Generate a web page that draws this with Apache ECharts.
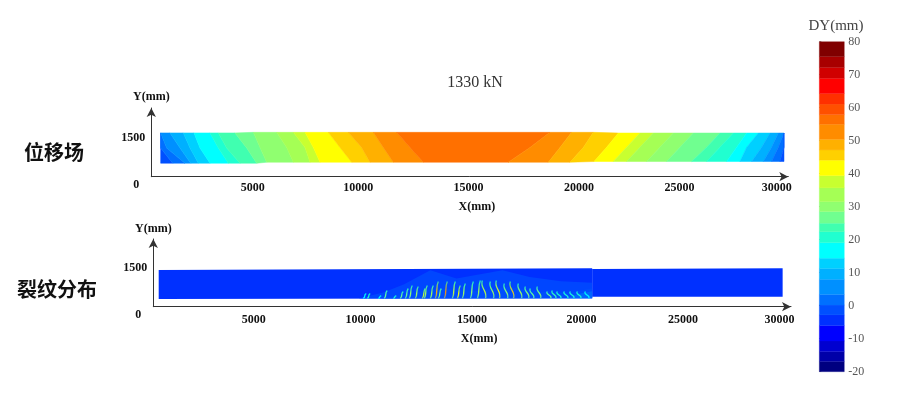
<!DOCTYPE html>
<html>
<head>
<meta charset="utf-8">
<title>1330 kN</title>
<script src="https://cdn.jsdelivr.net/npm/echarts@6/dist/echarts.min.js"></script>
<style>
html,body{margin:0;padding:0;background:#fff;}
#chart{width:903px;height:393px;}
</style>
</head>
<body>
<div id="chart"></div>
<script>
// 色标分档 (DY, mm)
var barEdges = [-20,-16.9,-13.9,-10.7,-6,-2.8,0.2,3.4,8,11.3,14.4,19.1,22.4,25,28.5,31.5,35.7,39.4,44.1,47.2,50.4,55,57.9,61.1,64.3,68.9,72.2,75.5,80];
var barColors = ['#000080','#0000a8','#0000d0','#0000ff','#0030ff','#0050ff','#0070ff','#0090ff','#00b0ff','#00d0ff','#00ffff','#20ffd0','#40ffb0','#70ff90','#90ff70','#a5ff55','#c8ff30','#ffff00','#ffd000','#ffb000','#ff8c00','#ff7000','#ff5000','#ff3000','#ff0000','#d00000','#a80000','#800000'];

var xTicks = [5000,10000,15000,20000,25000,30000];
var yTicks = [0,1500];

// 位移场 等值线 (mm): 上缘/中部/下缘的 x
var dispTopX = [448,448,448,895,1533,2044,2810,3209,4007,4885,6002,6800,7359,8476,9434,10631,11748,19090,20127,21165,22362,23399,24038,24995,25953,27230,27868,28506,29065,29624,30023,30294,30294,30294];
var dispMidX = [448,448,735,1374,1853,2331,3209,3608,4566,5204,6481,7359,7758,9035,10072,11109,12386,18132,19569,20686,21803,22761,23399,24357,25314,26591,27230,28028,28506,29225,29703,30023,30294,30294];
var dispBotX = [448,1023,1613,1885,2252,2810,3688,4247,5045,5524,6800,7598,8077,9593,10471,11588,13025,17095,19010,20048,21197,22122,22761,23718,24676,25873,26591,27549,28187,28746,29304,29703,30102,30294];
// 相邻等值线之间的 DY
var dispBandDY = [-1.3,1.8,5.7,9.7,12.8,16.7,20.7,23.7,26.7,30,33.5,37.5,41.7,45.6,48.8,52.7,56.4,52.7,48.8,45.6,41.7,37.5,33.5,30,26.7,23.7,20.7,16.7,12.8,9.7,5.7,1.8,-1.3];
// 模型外缘的 y: 左段/中段/右段
var dispRowY = [[1530,1000,470],[1550,1020,505],[1526,1030,531]];
var dispRowStart = [0,9,20];

// 裂纹分布 底色区域
var regionX = [
  [258,20990,20990,258],
  [20990,30100,30100,20990],
  [9800,11000,12000,13250,14500,16700,18000,19500,20990,20990],
  [10800,12000,13500,15500,17000,18500,20000,20990,20990],
  [19800,20300,20990,20990]
];
var regionY = [
  [273,298,1362,1301],
  [355,355,1362,1337],
  [290,500,800,1290,1000,1290,1050,900,850,298],
  [290,420,650,560,700,520,500,650,298],
  [298,450,550,298]
];
var regionDY = [-4.4,-4.4,-1.3,-1.3,1.8];

// 裂纹: 位置, 高度, 峰值 DY
var crackX = [10040,10232,10758,11046,11477,11811,12052,12243,12530,12865,12961,13249,13488,13632,13919,14302,14541,14781,15164,15499,15882,16265,16552,16935,17222,17605,17941,18180,18515,18994,19233,19473,19808,20095,20430,20813];
var crackH = [177,177,106,284,106,248,355,461,426,355,461,461,603,355,603,603,461,532,603,638,638,603,638,532,603,532,426,355,426,248,284,248,248,248,248,248];
var crackDY = [18,20,18,27,20,25,28,30,32,38,35,34,50,30,52,36,42,34,30,32,36,32,42,30,46,34,30,28,30,25,24,22,22,20,20,16];

var seriesFont = 'Liberation Serif';

function colorFor(dy) {
	for (var i = 0; i < barColors.length; i++) {
		if (dy < barEdges[i + 1]) {
			return barColors[i];
		}
	}
	return barColors[barColors.length - 1];
}

function rowFor(i) {
	var row = 0;
	for (var k = 0; k < dispRowStart.length; k++) {
		if (i >= dispRowStart[k]) {
			row = k;
		}
	}
	return dispRowY[row];
}

// 刻度标签相对刻度的偏移,与原图手工摆放的位置一致
function xAxisOpt(gridIndex, shifts, margin, nameGap) {
	var rich = {};
	for (var i = 0; i < shifts.length; i++) {
		rich['s' + i] = {
			fontFamily: seriesFont, fontWeight: 'bold', fontSize: 12, color: '#111',
			padding: [0, shifts[i] < 0 ? -2 * shifts[i] : 0, 0, shifts[i] > 0 ? 2 * shifts[i] : 0]
		};
	}
	return {
		gridIndex: gridIndex, type: 'value', min: 0, max: 30500,
		splitLine: {show: false},
		axisTick: {show: false},
		axisLine: {onZero: false, symbol: ['none', 'arrow'], symbolSize: [7, 9], lineStyle: {color: '#333', width: 1}},
		axisLabel: {
			customValues: xTicks, margin: margin,
			formatter: function(value) {
				var k = xTicks.indexOf(value);
				return '{s' + k + '|' + value + '}';
			},
			rich: rich
		},
		name: 'X(mm)', nameLocation: 'middle', nameGap: nameGap,
		nameTextStyle: {fontFamily: seriesFont, fontWeight: 'bold', fontSize: 12, color: '#111', padding: [0, 0, 0, 14]}
	};
}

function yAxisOpt(gridIndex, nameGap) {
	var labelStyle = {fontFamily: seriesFont, fontWeight: 'bold', fontSize: 12, color: '#111'};
	return {
		gridIndex: gridIndex, type: 'value', min: 0, max: 2400,
		splitLine: {show: false},
		axisTick: {show: false},
		axisLine: {onZero: false, symbol: ['none', 'arrow'], symbolSize: [7, 9], lineStyle: {color: '#333', width: 1}},
		axisLabel: {
			customValues: yTicks, margin: 6,
			formatter: function(value) {
				return value === 0 ? '{zero|0}' : '{top|' + value + '}';
			},
			rich: {
				zero: Object.assign({padding: [16, 6, 0, 0]}, labelStyle),
				top: Object.assign({padding: [8, 0, 0, 0]}, labelStyle)
			}
		},
		name: 'Y(mm)', nameLocation: 'end', nameGap: nameGap,
		nameTextStyle: {fontFamily: seriesFont, fontWeight: 'bold', fontSize: 12, color: '#111'}
	};
}

function renderDisp(params, api) {
	var i = params.dataIndex;
	var a = rowFor(i);
	var b = rowFor(i + 1);
	return {
		type: 'polygon',
		shape: {points: [
			api.coord([dispTopX[i], a[0]]),
			api.coord([dispTopX[i + 1], b[0]]),
			api.coord([dispMidX[i + 1], b[1]]),
			api.coord([dispBotX[i + 1], b[2]]),
			api.coord([dispBotX[i], a[2]]),
			api.coord([dispMidX[i], a[1]])
		]},
		style: {fill: colorFor(api.value(0)), stroke: colorFor(api.value(0)), lineWidth: 0.5}
	};
}

function renderRegion(params, api) {
	var i = params.dataIndex;
	var points = [];
	for (var k = 0; k < regionX[i].length; k++) {
		points.push(api.coord([regionX[i][k], regionY[i][k]]));
	}
	return {type: 'polygon', shape: {points: points}, style: {fill: colorFor(api.value(0)), opacity: i > 1 ? 0.7 : 1}};
}

function renderCrack(params, api) {
	var base = api.coord([api.value(0), 290]);
	var tip = api.coord([api.value(0), 290 + api.value(1)]);
	var lean = api.value(0) < 15500 ? 3 : -3;
	var h = base[1] - tip[1];
	return {
		type: 'bezierCurve',
		shape: {
			x1: base[0], y1: base[1],
			x2: base[0] + lean, y2: tip[1],
			cpx1: base[0] + 3, cpy1: base[1] - h * 0.4,
			cpx2: base[0] + lean - 3, cpy2: base[1] - h * 0.6
		},
		style: {
			fill: 'none', lineWidth: 1.3,
			stroke: new echarts.graphic.LinearGradient(0, 1, 0, 0, [
				{offset: 0, color: '#20a0ff'},
				{offset: 0.4, color: colorFor(api.value(2))},
				{offset: 1, color: '#00d8e8'}
			])
		}
	};
}

function renderBar(params, api) {
	var i = params.dataIndex;
	var p0 = api.coord([0, barEdges[i + 1]]);
	var p1 = api.coord([1, barEdges[i]]);
	return {
		type: 'rect',
		shape: {x: p0[0], y: p0[1], width: p1[0] - p0[0], height: p1[1] - p0[1]},
		style: {fill: barColors[i], stroke: barColors[i], lineWidth: 0.3}
	};
}

var dispData = dispBandDY.map(function(v) { return [v]; });
var regionData = regionDY.map(function(v) { return [v]; });
var crackData = crackX.map(function(v, i) { return [v, crackH[i], crackDY[i]]; });
var barData = barColors.map(function(c, i) { return [barEdges[i]]; });

var myChart = echarts.init(document.getElementById('chart'));
var option = {
	animation: false,
	backgroundColor: '#fff',
	title: [
		{text: '1330 kN', left: 475, top: 75, padding: 0, textAlign: 'center', textStyle: {fontFamily: seriesFont, fontWeight: 'normal', fontSize: 16, color: '#333'}},
		{text: '位移场', left: 54, top: 142, padding: 0, textAlign: 'center', textStyle: {fontFamily: 'Noto Sans CJK SC', fontWeight: 'bold', fontSize: 20, color: '#111'}},
		{text: '裂纹分布', left: 57, top: 279, padding: 0, textAlign: 'center', textStyle: {fontFamily: 'Noto Sans CJK SC', fontWeight: 'bold', fontSize: 20, color: '#111'}},
		{text: 'DY(mm)', left: 836, top: 19, padding: 0, textAlign: 'center', textStyle: {fontFamily: seriesFont, fontWeight: 'normal', fontSize: 15, color: '#444'}}
	],
	grid: [
		{left: 151.3, top: 108, width: 637, height: 68.7},
		{left: 153.3, top: 239, width: 637.7, height: 67.7},
		{left: 819.3, top: 41.7, width: 25, height: 330}
	],
	xAxis: [
		xAxisOpt(0, [-3,-2,4,10,6,-1], 5, 24),
		xAxisOpt(1, [-4,-2,5,10,7,-1], 7, 26),
		{gridIndex: 2, type: 'value', min: 0, max: 1, show: false}
	],
	yAxis: [
		yAxisOpt(0, 5),
		yAxisOpt(1, 4),
		{
			gridIndex: 2, type: 'value', position: 'right', min: -20, max: 80, interval: 10,
			splitLine: {show: false},
			axisLine: {show: false},
			axisTick: {length: 2, lineStyle: {color: '#999'}},
			axisLabel: {margin: 4, fontFamily: seriesFont, fontSize: 12, color: '#555'}
		}
	],
	series: [
		{type: 'custom', xAxisIndex: 0, yAxisIndex: 0, renderItem: renderDisp, data: dispData, silent: true},
		{type: 'custom', xAxisIndex: 1, yAxisIndex: 1, renderItem: renderRegion, data: regionData, silent: true},
		{type: 'custom', xAxisIndex: 1, yAxisIndex: 1, renderItem: renderCrack, data: crackData, silent: true, z: 3},
		{type: 'custom', xAxisIndex: 2, yAxisIndex: 2, renderItem: renderBar, data: barData, silent: true}
	]
};
myChart.setOption(option);
</script>
</body>
</html>
